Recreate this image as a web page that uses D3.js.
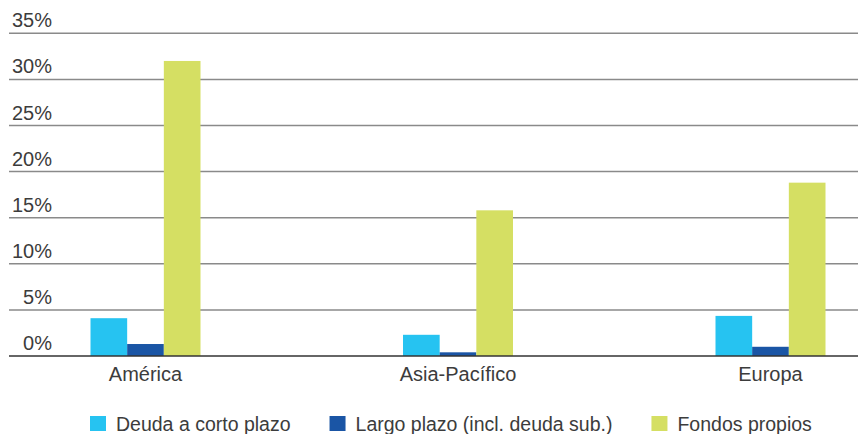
<!DOCTYPE html>
<html>
<head>
<meta charset="utf-8">
<script src="https://cdn.jsdelivr.net/npm/d3@7"></script>
<style>
  html, body { margin: 0; padding: 0; background: #ffffff; }
  svg { display: block; }
  text { font-family: "Liberation Sans", Arial, sans-serif; fill: #3c3c3c; }
</style>
</head>
<body>
<svg id="chart" width="858" height="434"></svg>
<script>
// Regions and series
const regions = ["América", "Asia-Pacífico", "Europa"];
const seriesNames = ["Deuda a corto plazo", "Largo plazo (incl. deuda sub.)", "Fondos propios"];
const seriesColors = ["#26c3f1", "#1a55a5", "#d5df63"];

// Values in percent, one array per series (order follows regions)
const cortoPlazo = [4.1, 2.3, 4.35];
const largoPlazo = [1.3, 0.4, 1.0];
const fondosPropios = [32.0, 15.8, 18.8];
const seriesValues = [cortoPlazo, largoPlazo, fondosPropios];

const yTicks = [0, 5, 10, 15, 20, 25, 30, 35];

const svg = d3.select("#chart");
const W = 858;

const y = d3.scaleLinear().domain([0, 35]).range([356, 33.3]);

const x0 = d3.scaleBand()
  .domain(regions)
  .range([58, 858])
  .paddingInner(0.648)
  .paddingOuter(0.104);

const x1 = d3.scaleBand()
  .domain(seriesNames)
  .range([0, x0.bandwidth()])
  .padding(0);

// Gridlines and tick labels
const grid = svg.append("g");
grid.selectAll("line")
  .data(yTicks.filter(d => d > 0))
  .join("line")
  .attr("x1", 9).attr("x2", W)
  .attr("y1", d => y(d)).attr("y2", d => y(d))
  .attr("stroke", "#8a8a8a")
  .attr("stroke-width", 1.5);

grid.selectAll("text")
  .data(yTicks)
  .join("text")
  .attr("x", 52)
  .attr("y", d => y(d) - 6)
  .attr("text-anchor", "end")
  .attr("font-size", 20)
  .text(d => d + "%");

// Bars
const groups = svg.append("g").selectAll("g")
  .data(regions)
  .join("g")
  .attr("transform", r => `translate(${x0(r)},0)`);

groups.selectAll("rect")
  .data((r, ri) => seriesNames.map((s, si) => ({ s, si, v: seriesValues[si][ri] })))
  .join("rect")
  .attr("x", d => x1(d.s))
  .attr("width", x1.bandwidth())
  .attr("y", d => y(d.v))
  .attr("height", d => y(0) - y(d.v))
  .attr("fill", d => seriesColors[d.si]);

// Baseline
svg.append("line")
  .attr("x1", 9).attr("x2", W)
  .attr("y1", y(0)).attr("y2", y(0))
  .attr("stroke", "#333333")
  .attr("stroke-width", 1.5);

// Category labels
svg.append("g").selectAll("text")
  .data(regions)
  .join("text")
  .attr("x", r => x0(r) + x0.bandwidth() / 2)
  .attr("y", 381)
  .attr("text-anchor", "middle")
  .attr("font-size", 20)
  .text(r => r);

// Legend
const legend = svg.append("g");
let lx = 90;
seriesNames.forEach((name, i) => {
  legend.append("rect")
    .attr("x", lx).attr("y", 416)
    .attr("width", 16).attr("height", 15)
    .attr("fill", seriesColors[i]);
  const t = legend.append("text")
    .attr("x", lx + 26)
    .attr("y", 431)
    .attr("font-size", 19.5)
    .text(name);
  lx += 26 + t.node().getComputedTextLength() + 39;
});
</script>
</body>
</html>
